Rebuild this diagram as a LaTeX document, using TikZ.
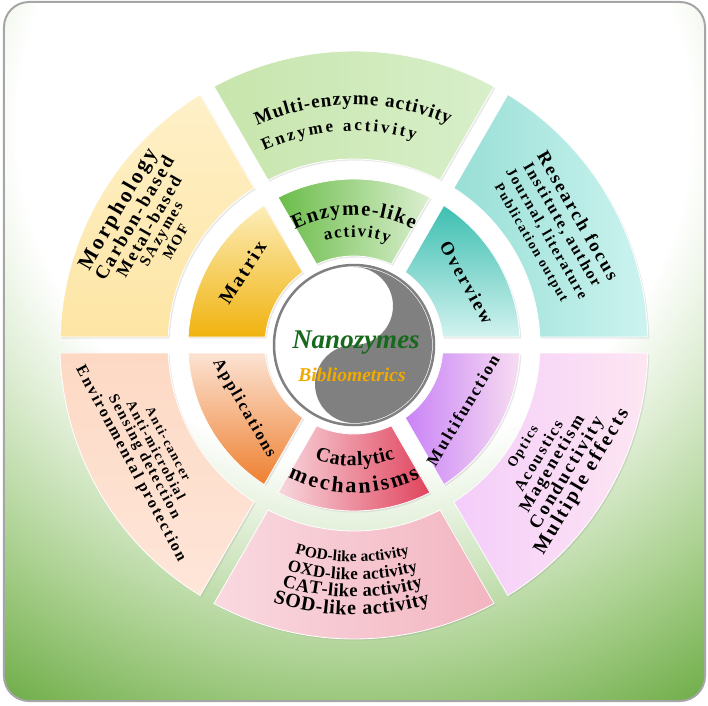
\documentclass[tikz,border=0pt]{standalone}
\usepackage{fontspec}
\setmainfont{Liberation Serif}
\newfontfamily\wafont[LetterSpace=12]{Liberation Serif}
\usetikzlibrary{decorations.text,shadows}

% colours
\definecolor{bgA}{HTML}{E3F0DA}
\definecolor{bgB}{HTML}{A9D08E}
\definecolor{bgC}{HTML}{6CAB44}
\definecolor{frame}{HTML}{A6A6A6}
\definecolor{yygray}{HTML}{808080}
\definecolor{nzgreen}{HTML}{17691C}
\definecolor{biborange}{HTML}{F2A900}
\definecolor{mxTop}{HTML}{FDEDB9}\definecolor{mxBot}{HTML}{F0B30F}
\definecolor{elLeft}{HTML}{6BBD4A}\definecolor{elRight}{HTML}{DCEFD0}
\definecolor{ovTop}{HTML}{3DBFB1}\definecolor{ovBot}{HTML}{D2F2EF}
\definecolor{mfLeft}{HTML}{C983F7}\definecolor{mfRight}{HTML}{F7DDF1}
\definecolor{caLeft}{HTML}{F8D8DE}\definecolor{caRight}{HTML}{E0435C}
\definecolor{apTop}{HTML}{FCE3D3}\definecolor{apBot}{HTML}{EE8030}
\definecolor{moA}{HTML}{FEF0C8}\definecolor{moB}{HTML}{FDE5A4}
\definecolor{meA}{HTML}{C7E5AC}\definecolor{meB}{HTML}{D8EFCA}
\definecolor{rfA}{HTML}{98DFD6}\definecolor{rfB}{HTML}{CCF3EF}
\definecolor{mpA}{HTML}{F4CDFA}\definecolor{mpB}{HTML}{FDE6F2}
\definecolor{pdA}{HTML}{FAD9E0}\definecolor{pdB}{HTML}{F2B5C0}
\definecolor{evA}{HTML}{FDD9C4}\definecolor{evB}{HTML}{FEE6D9}

\pgfdeclareradialshading{bgshade}{\pgfpoint{0bp}{0bp}}{color(0bp)=(white); color(12bp)=(white); color(14.5bp)=(bgA); color(19.5bp)=(bgB); color(24.3bp)=(bgC); color(50bp)=(bgC)}

\newcommand{\sz}[1]{\fontsize{#1}{#1}\selectfont}
% ring piece with a straight gap of 16pt on each side
\newcommand{\ringsector}[5]{%
  \pgfmathsetmacro{\sAi}{#2+asin(8/#4)}%
  \pgfmathsetmacro{\sAo}{#2+asin(8/#5)}%
  \pgfmathsetmacro{\sBi}{#3-asin(8/#4)}%
  \pgfmathsetmacro{\sBo}{#3-asin(8/#5)}%
  \path[#1] (\sAi:#4pt) -- (\sAo:#5pt) arc[start angle=\sAo, end angle=\sBo, radius=#5pt]
    -- (\sBi:#4pt) arc[start angle=\sBi, end angle=\sAi, radius=#4pt] -- cycle;}

\begin{document}
\begin{tikzpicture}[x=1pt, y=1pt,
    lbl/.style={font=\wafont\bfseries, inner sep=0pt},
    sec/.style={shade, draw=white, line width=0.8pt,
      drop shadow={opacity=0.18, shadow xshift=1.5pt, shadow yshift=-1.5pt}},
    arctext/.style={decorate, decoration={text along path, text align={fit to path}, text={#1}}}]
  \useasboundingbox (-354,-360) rectangle (354,345);

  % background
  \begin{scope}
    \clip[rounded corners=25pt] (-350,-356) rectangle (351,343);
    \shade[shading=bgshade] (0,220) circle (700pt);
  \end{scope}
  \draw[frame, line width=2pt, rounded corners=25pt] (-350,-356) rectangle (351,343);

  % outer ring
  \ringsector{sec, left color=rfA, right color=rfB}{0}{60}{186}{294}
  \ringsector{sec, left color=meA, right color=meB}{60}{120}{186}{294}
  \ringsector{sec, top color=moA, bottom color=moB}{120}{180}{186}{294}
  \ringsector{sec, top color=evA, bottom color=evB}{180}{240}{186}{294}
  \ringsector{sec, left color=pdA, right color=pdB}{240}{300}{186}{294}
  \ringsector{sec, left color=mpA, right color=mpB}{300}{360}{186}{294}

  % inner ring
  \ringsector{sec, top color=ovTop, bottom color=ovBot}{0}{60}{89}{166}
  \ringsector{sec, left color=elLeft, right color=elRight}{60}{120}{89}{166}
  \ringsector{sec, top color=mxTop, bottom color=mxBot}{120}{180}{89}{166}
  \ringsector{sec, top color=apTop, bottom color=apBot}{180}{240}{89}{166}
  \ringsector{sec, left color=caLeft, right color=caRight}{240}{300}{89}{166}
  \ringsector{sec, left color=mfLeft, right color=mfRight}{300}{360}{89}{166}

  % yin-yang core
  \fill[white] (0,0) circle (84pt);
  \fill[yygray] (0,78) arc[start angle=90, end angle=-90, radius=78pt]
    arc[start angle=270, end angle=90, radius=39pt]
    arc[start angle=-90, end angle=90, radius=39pt] -- cycle;
  \draw[yygray, line width=2.5pt] (0,0) circle (80pt);
  \node[font=\bfseries\itshape\sz{27}, text=nzgreen, inner sep=0pt] (title) at (2,2) {Nanozymes};
  \node[font=\bfseries\itshape\sz{19.5}, text=biborange, inner sep=0pt] (subtitle) at (-2,-30) {Bibliometrics};

  % inner ring labels
  \node[lbl, rotate=57] (matrix) at (147:133pt) {\sz{19.5}Matrix};
  \node[lbl, rotate=-61] (overview) at (29:129pt) {\sz{18.5}Overview};
  \node[lbl, rotate=59] (multifn) at (-31:127pt) {\sz{17}Multifunction};
  \node[lbl, rotate=-60] (applic) at (210:127pt) {\sz{16.5}Applications};
  \path[arctext={|\sz{20.5}\bfseries|Enzyme-like}] (117:130pt) arc[start angle=117, end angle=63, radius=130pt];
  \path[arctext={|\sz{17}\bfseries|activity}] (105.6:108pt) arc[start angle=105.6, end angle=71.1, radius=108pt];
  \path[arctext={|\sz{20}\bfseries|Catalytic}] (251:121pt) arc[start angle=251, end angle=290, radius=121pt];
  \path[arctext={|\sz{22}\bfseries|mechanisms}] (243.5:148pt) arc[start angle=243.5, end angle=296.5, radius=148pt];

  % outer ring labels
  \path[arctext={|\sz{19}\bfseries|Multi-enzyme activity}] (113.8:240pt) arc[start angle=113.8, end angle=66.7, radius=240pt];
  \path[arctext={|\sz{17}\bfseries|Enzyme activity}] (114.8:214pt) arc[start angle=114.8, end angle=73.4, radius=214pt];
  \path[arctext={|\sz{15.5}\bfseries|POD-like activity}] (254.2:217pt) arc[start angle=254.2, end angle=284.9, radius=217pt];
  \path[arctext={|\sz{17}\bfseries|OXD-like activity}] (253.4:235pt) arc[start angle=253.4, end angle=285.8, radius=235pt];
  \path[arctext={|\sz{18.5}\bfseries|CAT-like activity}] (253.4:252pt) arc[start angle=253.4, end angle=285.9, radius=252pt];
  \path[arctext={|\sz{20}\bfseries|SOD-like activity}] (252.5:270pt) arc[start angle=252.5, end angle=286.4, radius=270pt];

  \foreach \r/\s/\t [count=\i] in {271/21.5/Morphology, 254/19/Carbon-based, 237/17.5/Metal-based, 221/15.5/SAzymes, 206/14.5/MOF}
    \node[lbl, rotate=60] (morph\i) at (150:\r pt) {\sz{\s}\t};
  \foreach \r/\s/\t [count=\i] in {259/18.5/Research focus, 240/16/{Institute, author}, 222/15/{Journal, literature}, 204/13.5/Publication output}
    \node[lbl, rotate=-60] (focus\i) at (30:\r pt) {\sz{\s}\t};
  \foreach \r/\s/\t [count=\i] in {198/14/Optics, 215/16/Acoustics, 232/17.5/Magenetism, 249/18.5/Conductivity, 266/20/Multiple effects}
    \node[lbl, rotate=59] (effect\i) at (-31:\r pt) {\sz{\s}\t};
  \foreach \r/\s/\t [count=\i] in {210/13/Anti-cancer, 224/14/Anti-microbial, 238/15/Sensing detection, 253/16/Environmental protection}
    \node[lbl, rotate=-62] (use\i) at (208:\r pt) {\sz{\s}\t};
\end{tikzpicture}
\end{document}
